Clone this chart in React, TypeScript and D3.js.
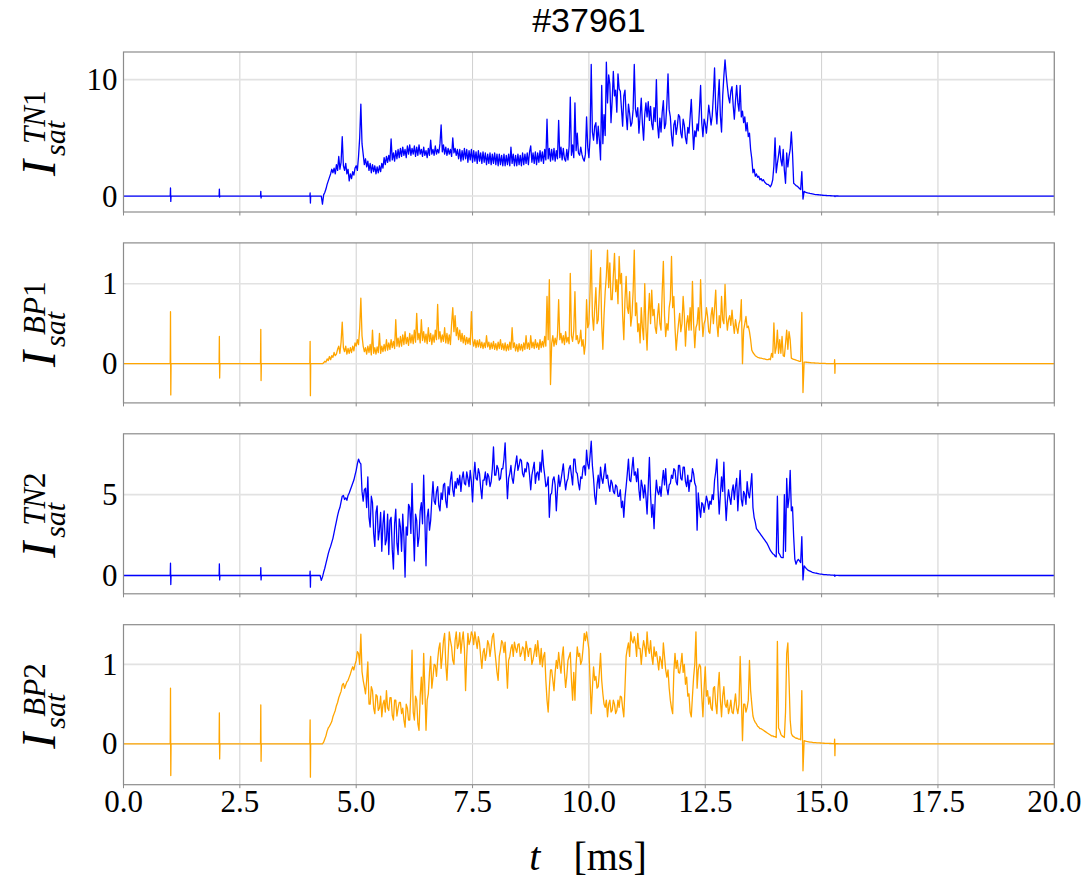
import React from 'react';
import * as d3 from 'd3';

// Sampling of the active part of the discharge (ms)
const tStart = 4.2;
const tStep = 0.025;

// Ion saturation current, probe TN1 (4.200 … 15.400 ms)
const tn1Values = [
  0, 0, 0, -0.7, 0.1, 0.3, 0.6, 1.0, 1.3, 1.6,
  1.9, 2.3, 2.0, 2.4, 1.9, 2.7, 2.2, 3.4, 2.3, 2.9,
  5.1, 2.6, 2.2, 2.8, 1.9, 2.3, 1.3, 1.9, 1.5, 2.1,
  1.8, 2.4, 2.6, 2.2, 3.4, 5.0, 7.9, 4.5, 3.6, 2.7,
  3.2, 2.5, 3.0, 2.2, 2.8, 2.0, 2.7, 2.1, 2.6, 1.9,
  2.5, 2.0, 2.6, 2.1, 2.8, 2.4, 3.3, 2.7, 3.4, 2.9,
  3.5, 3.0, 4.9, 3.1, 3.7, 3.0, 3.9, 3.2, 4.0, 3.3,
  4.1, 3.4, 4.2, 3.5, 4.0, 3.3, 4.3, 3.6, 4.4, 3.5,
  4.1, 3.6, 4.3, 3.4, 4.2, 3.5, 4.4, 3.6, 4.0, 3.4,
  4.2, 3.5, 3.9, 3.3, 4.1, 3.5, 4.8, 3.6, 4.0, 3.5,
  4.3, 3.6, 4.0, 3.7, 4.5, 6.1, 3.8, 4.4, 3.6, 4.2,
  3.5, 4.1, 3.6, 4.0, 3.4, 5.0, 3.7, 4.1, 3.5, 4.0,
  3.2, 4.0, 3.0, 3.9, 3.1, 4.1, 3.2, 4.0, 2.9, 3.9,
  3.1, 4.0, 2.9, 3.9, 3.0, 3.8, 2.8, 3.9, 3.0, 3.7,
  2.8, 3.8, 2.9, 3.7, 2.7, 3.6, 2.8, 3.7, 2.7, 3.6,
  2.8, 3.7, 2.7, 3.6, 2.6, 3.6, 2.7, 3.5, 2.6, 3.6,
  2.6, 3.5, 2.7, 3.6, 2.6, 4.2, 2.8, 3.6, 2.6, 3.5,
  2.6, 3.6, 2.7, 3.5, 2.6, 3.7, 2.7, 3.6, 2.8, 3.7,
  2.7, 3.8, 4.3, 2.9, 3.7, 2.8, 3.8, 2.7, 3.7, 2.9,
  3.9, 3.0, 3.8, 2.8, 4.0, 3.1, 6.6, 3.2, 4.1, 3.0,
  4.0, 3.1, 4.1, 3.0, 3.9, 3.2, 6.5, 3.3, 4.2, 3.1,
  4.1, 3.2, 3.0, 4.0, 3.1, 4.3, 8.5, 3.5, 4.4, 3.3,
  8.0, 3.9, 5.4, 3.7, 3.5, 4.2, 3.6, 3.2, 3.0, 3.6,
  6.8, 4.2, 3.3, 5.0, 11.3, 5.5, 4.8, 6.0, 6.3, 4.5,
  6.0, 4.8, 3.1, 9.5, 4.5, 7.0, 5.2, 11.5, 8.0, 10.4,
  9.6, 6.3, 8.2, 10.7, 8.6, 9.1, 7.2, 10.5, 9.2, 9.0,
  7.5, 6.0, 8.6, 9.1, 7.0, 5.7, 7.9, 7.1, 6.0, 6.3,
  7.4, 11.3, 7.5, 6.8, 7.6, 5.4, 6.9, 8.4, 6.2, 4.8,
  7.0, 8.0, 6.8, 8.1, 6.5, 7.7, 6.2, 5.7, 7.6, 6.4,
  10.0, 6.1, 5.0, 6.7, 5.5, 7.2, 8.2, 5.8, 6.2, 7.9,
  10.5, 7.4, 6.8, 5.2, 4.3, 6.1, 6.5, 5.3, 6.0, 7.0,
  6.8, 5.4, 5.0, 6.6, 6.1, 5.0, 4.5, 5.9, 5.4, 6.8,
  8.3, 6.0, 4.0, 5.6, 5.1, 6.2, 5.6, 7.4, 9.5, 6.3,
  5.1, 6.6, 6.2, 5.4, 6.5, 7.8, 7.0, 6.1, 6.9, 8.7,
  11.0, 7.5, 6.2, 8.3, 10.0, 6.9, 5.5, 8.6, 10.3, 11.7,
  10.4, 9.4, 8.5, 8.0, 9.0, 9.4, 7.8, 6.6, 8.2, 9.5,
  8.0, 7.3, 9.5, 6.8, 7.3, 6.3, 6.8, 5.6, 6.3, 5.1,
  5.4, 4.0, 3.2, 2.0, 2.3, 1.7, 1.9, 1.6, 1.7, 1.4,
  1.5, 1.3, 1.4, 1.2, 1.1, 1.0, 1.0, 0.9, 0.8, 1.0,
  1.4, 2.6, 5.0, 2.0, 2.8, 3.5, 4.3, 3.1, 2.6, 4.0,
  2.2, 1.1, 3.7, 2.5, 3.4, 4.0, 5.5, 3.7, 1.1, 1.0,
  0.9, 0.85, 0.75, 0.65, 0.55, 2.1, -0.26, 0.4, 0.33, 0.3,
  0.27, 0.25, 0.22, 0.2, 0.18, 0.16, 0.14, 0.13, 0.12, 0.11,
  0.1, 0.09, 0.08, 0.07, 0.06, 0.05, 0.045, 0.04, 0.035, 0.03,
  0.025, 0.02, 0.015, 0.01, 0.008, 0.005, 0.003, 0.001, 0,
];

// Probe BP1
const bp1Values = [
  0, 0, 0, 0, 0.01, 0.03, 0.02, 0.06, 0.04, 0.09,
  0.05, 0.1, 0.08, 0.14, 0.1, 0.12, 0.18, 0.22, 0.13, 0.27,
  0.52, 0.2, 0.15, 0.22, 0.12, 0.19, 0.13, 0.2, 0.14, 0.22,
  0.16, 0.26, 0.22, 0.3, 0.24, 0.45, 0.82, 0.35, 0.22, 0.15,
  0.2, 0.12, 0.22, 0.14, 0.24, 0.11, 0.42, 0.13, 0.2, 0.12,
  0.21, 0.14, 0.38, 0.13, 0.22, 0.15, 0.24, 0.16, 0.3, 0.17,
  0.26, 0.18, 0.3, 0.2, 0.28, 0.19, 0.55, 0.22, 0.32, 0.21,
  0.34, 0.22, 0.36, 0.24, 0.4, 0.25, 0.33, 0.23, 0.38, 0.26,
  0.36, 0.25, 0.42, 0.27, 0.63, 0.3, 0.38, 0.26, 0.55, 0.29,
  0.4, 0.27, 0.37, 0.25, 0.45, 0.28, 0.38, 0.24, 0.36, 0.27,
  0.42, 0.3, 0.74, 0.31, 0.4, 0.27, 0.36, 0.28, 0.45, 0.26,
  0.38, 0.25, 0.36, 0.24, 0.5, 0.7, 0.4, 0.6, 0.35, 0.45,
  0.3, 0.42, 0.28, 0.38, 0.26, 0.35, 0.24, 0.33, 0.25, 0.32,
  0.24, 0.65, 0.3, 0.22, 0.3, 0.2, 0.29, 0.21, 0.3, 0.2,
  0.27, 0.19, 0.26, 0.2, 0.35, 0.21, 0.27, 0.18, 0.26, 0.19,
  0.28, 0.18, 0.25, 0.17, 0.27, 0.19, 0.3, 0.18, 0.25, 0.17,
  0.26, 0.16, 0.24, 0.17, 0.27, 0.18, 0.45, 0.2, 0.26, 0.16,
  0.24, 0.15, 0.25, 0.17, 0.24, 0.16, 0.26, 0.18, 0.35, 0.19,
  0.26, 0.18, 0.35, 0.2, 0.27, 0.19, 0.3, 0.2, 0.26, 0.18,
  0.3, 0.2, 0.28, 0.21, 0.34, 0.22, 0.84, 0.3, 1.05, -0.26,
  0.25, 0.35, 0.22, 0.32, 0.24, 0.36, 0.8, 0.3, 0.38, 0.26,
  0.35, 0.24, 0.4, 0.27, 0.33, 0.25, 1.13, 0.35, 0.28, 0.42,
  0.9, 0.3, 0.35, 0.25, 0.28, 0.42, 0.22, 0.3, 0.12, 0.25,
  0.8, 0.45, 0.5, 0.9, 1.42, 0.6, 0.42, 0.7, 0.95, 0.5,
  0.55, 0.9, 1.2, 0.5, 0.18, 0.6, 0.9, 1.1, 1.42, 0.95,
  1.26, 0.8, 0.8, 1.1, 1.38, 0.9, 1.05, 0.75, 1.34, 1.0,
  1.13, 0.6, 0.3, 0.8, 1.09, 0.7, 0.63, 0.9, 0.47, 0.6,
  0.9, 1.42, 0.6, 0.76, 0.4, 0.5, 0.26, 0.7, 0.45, 0.3,
  1.0, 0.45, 0.17, 0.6, 0.88, 0.5, 0.92, 0.6, 0.68, 0.45,
  0.38, 0.6, 0.75, 0.5, 0.42, 0.9, 1.28, 0.6, 0.34, 0.5,
  0.42, 0.7, 0.8, 1.34, 0.7, 0.84, 0.45, 0.17, 0.35, 0.5,
  0.63, 0.4, 0.5, 0.84, 0.6, 0.22, 0.5, 0.6, 0.42, 0.7,
  0.42, 1.03, 0.5, 0.2, 0.45, 0.5, 0.7, 0.42, 1.05, 0.6,
  0.34, 0.5, 0.55, 0.7, 0.59, 0.4, 0.38, 0.6, 0.7, 0.5,
  0.7, 0.92, 0.5, 0.34, 0.6, 0.45, 0.84, 0.55, 0.5, 0.99,
  0.6, 0.42, 0.55, 0.6, 0.48, 0.67, 0.5, 0.38, 0.55, 0.45,
  0.38, 0.5, 0.55, 0.8, 0.0, 0.42, 0.5, 0.59, 0.45, 0.47,
  0.4, 0.3, 0.17, 0.14, 0.12, 0.1, 0.09, 0.08, 0.075, 0.07,
  0.07, 0.065, 0.06, 0.06, 0.055, 0.05, 0.05, 0.06, 0.05, 0.13,
  0.08, 0.51, 0.13, 0.2, 0.42, 0.13, 0.3, 0.13, 0.34, 0.1,
  0.09, 0.25, 0.42, 0.18, 0.4, 0.3, 0.07, 0.06, 0.055, 0.05,
  0.045, 0.04, 0.035, 0.03, 0.03, 0.64, -0.36, 0.02, 0.02, 0.018,
  0.016, 0.015, 0.014, 0.012, 0.011, 0.01, 0.009, 0.008, 0.007, 0.006,
  0.005, 0.005, 0.004, 0.004, 0.003, 0.003, 0.002, 0.002, 0.002, 0.001,
  0.001, 0.001, 0, 0, 0, 0, 0, 0, 0,
];

// Probe TN2
const tn2Values = [
  0, 0, -0.3, -0.1, 0.2, 0.45, 0.75, 1.05, 1.35, 1.6,
  1.8, 2.05, 2.3, 2.65, 3.0, 3.35, 3.7, 4.0, 4.2, 4.55,
  4.9, 4.95, 4.7, 4.8, 4.65, 4.95, 5.1, 5.3, 5.5, 5.7,
  5.9, 6.2, 6.5, 6.9, 7.2, 7.0, 6.9, 5.2, 4.6, 5.3,
  5.4, 4.2, 6.1, 3.6, 3.0, 4.9, 4.5, 2.6, 1.8, 3.9,
  4.3, 2.2, 2.8, 3.9, 1.5, 3.2, 4.0, 1.9, 2.2, 3.8,
  1.3, 3.4, 3.6, 1.6, 0.4, 3.2, 4.1, 2.0, 1.3, 3.5,
  3.0, 1.5, 3.8, 2.4, -0.1, 3.0, 2.5, 4.4, 4.2, 2.6,
  5.7, 3.0, 0.9, 3.8, 3.4, 1.8, 2.4, 4.0, 4.5, 3.2,
  6.2, 3.5, 0.6, 3.6, 4.1, 2.8, 3.4, 4.7, 5.8, 4.6,
  4.4, 5.2, 5.5, 4.3, 4.0, 5.1, 4.7, 5.6, 5.7, 4.6,
  4.2, 5.5, 5.0, 5.9, 6.4, 5.3, 4.9, 5.8, 5.4, 6.0,
  5.6, 6.2, 5.2, 6.0, 6.4, 5.7, 5.6, 6.4, 6.0, 5.5,
  6.5, 5.8, 4.55, 6.1, 7.0, 6.0, 5.9, 6.6, 6.3, 5.4,
  4.75, 5.9, 5.9, 6.4, 5.6, 6.3, 6.1, 5.5, 5.8, 6.6,
  7.95, 6.2, 6.2, 6.8, 6.6, 5.9, 6.0, 6.6, 6.6, 7.2,
  8.2, 6.3, 4.75, 6.0, 6.3, 6.8, 6.0, 5.7, 6.4, 6.9,
  7.4, 6.5, 6.8, 7.2, 7.1, 6.3, 6.1, 6.6, 6.4, 7.0,
  6.9, 6.2, 5.3, 6.2, 6.6, 7.0, 5.7, 6.3, 6.4, 5.9,
  7.0, 6.4, 7.75, 6.8, 6.2, 5.5, 5.6, 6.1, 3.6, 5.0,
  5.1, 5.9, 6.1, 5.6, 4.0, 5.3, 6.2, 5.5, 5.9, 6.4,
  6.9, 6.0, 5.3, 5.8, 6.0, 6.6, 6.8, 6.2, 5.6, 7.2,
  7.2, 6.4, 6.3, 5.7, 5.3, 6.1, 6.0, 6.7, 6.8, 6.2,
  7.75, 6.9, 6.6, 7.4, 8.3, 6.8, 6.0, 4.9, 4.4, 5.6,
  6.2, 5.4, 6.7, 6.0, 5.7, 6.3, 6.9, 6.0, 6.2, 5.6,
  5.2, 5.9, 5.7, 5.2, 5.06, 5.6, 5.5, 4.9, 4.9, 5.3,
  4.2, 4.6, 3.6, 4.8, 5.5, 6.3, 7.2, 5.9, 5.8, 6.6,
  7.3, 6.2, 6.4, 5.8, 6.6, 5.3, 4.65, 5.9, 5.5, 4.8,
  5.6, 4.9, 3.8, 5.5, 7.3, 5.0, 3.6, 4.4, 2.9, 4.8,
  5.9, 5.2, 5.0, 5.5, 4.9, 5.8, 6.5, 5.6, 6.6, 5.4,
  5.0, 5.6, 5.7, 6.2, 6.0, 6.6, 6.5, 5.8, 5.6, 6.8,
  6.8, 6.0, 5.9, 6.7, 6.7, 5.8, 5.5, 6.2, 5.2, 5.9,
  5.8, 6.6, 6.3, 5.7, 5.5, 2.8, 5.1, 4.2, 3.6, 4.5,
  4.4, 3.9, 4.4, 4.9, 4.6, 4.1, 4.6, 4.4, 5.0, 4.7,
  5.89, 6.4, 7.2, 5.3, 3.8, 5.0, 6.1, 5.2, 7.0, 4.9,
  3.4, 4.6, 5.3, 4.8, 4.4, 5.2, 5.6, 4.7, 5.5, 6.0,
  4.0, 5.3, 6.5, 4.7, 4.3, 5.2, 5.0, 4.4, 5.8, 5.1,
  4.8, 5.5, 6.3, 4.2, 3.6, 3.3, 2.9, 2.8, 2.7, 2.6,
  2.5, 2.4, 2.3, 2.2, 2.1, 2.0, 1.85, 1.7, 1.55, 1.45,
  1.35, 1.3, 1.2, 1.15, 4.9, 1.4, 1.3, 1.15, 1.1, 1.1,
  5.0, 1.5, 6.0, 4.2, 4.8, 6.5, 4.0, 4.24, 2.4, 1.0,
  0.7, 0.9, 1.0, 0.9, 0.8, 2.4, -0.27, 0.6, 0.5, 0.42,
  0.35, 0.3, 0.27, 0.24, 0.2, 0.18, 0.16, 0.15, 0.14, 0.12,
  0.1, 0.09, 0.08, 0.07, 0.06, 0.055, 0.05, 0.045, 0.04, 0.035,
  0.03, 0.025, 0.02, 0.015, 0.01, 0.007, 0.004, 0.002, 0,
];

// Probe BP2
const bp2Values = [
  0, 0, 0, 0, 0.02, 0.06, 0.1, 0.16, 0.2, 0.22,
  0.25, 0.28, 0.34, 0.38, 0.42, 0.48, 0.52, 0.58, 0.62, 0.66,
  0.74, 0.76, 0.7, 0.74, 0.78, 0.8, 0.84, 0.88, 0.93, 0.97,
  0.93, 1.0, 1.05, 1.16, 1.14, 1.0, 1.38, 0.91, 0.8, 0.72,
  0.63, 0.8, 1.03, 0.5, 0.5, 0.72, 0.67, 0.45, 0.38, 0.62,
  0.6, 0.42, 0.45, 0.6, 0.34, 0.5, 0.55, 0.4, 0.67, 0.45,
  0.42, 0.58, 0.58, 0.36, 0.3, 0.55, 0.55, 0.35, 0.45, 0.52,
  0.52, 0.38, 0.45, 0.3, 0.21, 0.5, 0.45, 0.3, 0.3, 0.67,
  1.18, 0.4, 0.3, 0.6, 0.55, 0.25, 0.17, 0.6, 0.84, 0.5,
  1.14, 0.7, 0.17, 0.55, 0.63, 0.9, 1.1, 0.7, 0.84, 1.0,
  0.99, 0.85, 1.05, 1.2, 1.27, 0.95, 1.1, 1.3, 1.39, 1.0,
  0.8, 1.1, 1.41, 1.3, 1.22, 1.05, 1.0, 1.3, 1.41, 1.2,
  1.25, 1.4, 1.14, 1.3, 1.41, 1.2, 0.67, 1.1, 1.39, 1.25,
  1.3, 1.41, 1.37, 1.25, 1.41, 1.3, 1.2, 1.35, 1.27, 1.1,
  0.95, 1.15, 1.2, 1.05, 1.14, 1.3, 1.25, 1.1, 1.22, 1.35,
  1.39, 1.2, 1.05, 0.9, 0.8, 1.1, 1.18, 1.3, 1.27, 1.15,
  1.28, 1.0, 0.7, 1.05, 1.1, 1.2, 1.25, 1.1, 1.28, 1.2,
  1.15, 1.25, 1.26, 1.1, 1.14, 1.22, 1.2, 1.05, 1.29, 1.2,
  1.1, 1.2, 1.2, 1.0, 1.06, 1.15, 1.25, 1.1, 1.3, 1.15,
  1.0, 1.2, 0.97, 1.1, 1.15, 0.8, 0.55, 0.4, 0.7, 0.93,
  0.93, 0.8, 0.67, 0.9, 1.05, 0.95, 1.15, 1.0, 0.89, 1.1,
  1.22, 0.9, 0.71, 0.85, 1.05, 1.1, 1.15, 0.8, 0.55, 0.9,
  0.55, 1.0, 1.22, 1.1, 1.14, 1.0, 1.05, 1.2, 1.39, 1.3,
  1.41, 1.3, 1.19, 0.8, 0.38, 0.7, 0.97, 0.8, 0.85, 0.7,
  0.72, 0.9, 1.14, 0.8, 0.63, 0.5, 0.46, 0.55, 0.34, 0.5,
  0.55, 0.4, 0.42, 0.55, 0.5, 0.38, 0.42, 0.55, 0.46, 0.6,
  0.59, 0.45, 0.34, 0.7, 1.1, 1.2, 1.27, 1.1, 1.41, 1.3,
  1.27, 1.35, 1.27, 1.1, 1.39, 1.2, 1.2, 1.0, 1.18, 1.3,
  1.22, 1.1, 1.41, 1.2, 1.14, 1.3, 1.1, 1.0, 1.22, 1.1,
  1.16, 1.05, 0.93, 1.1, 1.05, 0.95, 1.27, 1.1, 0.93, 0.84,
  0.93, 0.7, 0.55, 0.45, 0.38, 0.9, 1.14, 0.95, 1.05, 0.9,
  0.89, 1.0, 1.14, 0.9, 1.0, 0.75, 0.84, 0.6, 0.63, 0.4,
  0.34, 0.6, 0.84, 1.0, 1.41, 0.7, 0.93, 1.0, 0.97, 0.6,
  0.34, 0.7, 0.97, 0.6, 0.67, 0.5, 0.59, 0.45, 0.42, 0.7,
  0.72, 0.5, 0.38, 0.7, 0.9, 0.55, 0.34, 0.6, 0.72, 0.5,
  0.46, 0.55, 0.38, 0.45, 0.55, 0.4, 0.38, 0.5, 0.63, 0.45,
  0.38, 0.5, 1.1, 0.6, 0.04, 0.5, 0.5, 0.4, 0.46, 0.55,
  1.05, 0.67, 0.5, 0.35, 0.3, 0.27, 0.25, 0.22, 0.21, 0.19,
  0.19, 0.18, 0.17, 0.16, 0.15, 0.14, 0.13, 0.12, 0.11, 0.1,
  0.1, 0.09, 0.09, 0.08, 1.29, 0.2, 0.17, 0.12, 0.1, 0.09,
  0.08, 0.4, 1.14, 1.27, 0.8, 0.3, 0.13, 0.1, 0.09, 0.08,
  0.07, 0.07, 0.06, 0.06, 0.05, 0.67, -0.34, 0.04, 0.035, 0.03,
  0.028, 0.025, 0.022, 0.02, 0.018, 0.016, 0.015, 0.014, 0.013, 0.012,
  0.011, 0.01, 0.009, 0.008, 0.007, 0.006, 0.006, 0.005, 0.005, 0.004,
  0.004, 0.003, 0.003, 0.002, 0.002, 0.001, 0.001, 0, 0,
];

// Pickup spikes on the otherwise flat baseline (time, positive and negative excursion)
const spikeTimes = [1.01, 2.06, 2.95, 4.01, 15.28];
const tn1SpikeHi = [0.69, 0.6, 0.4, 0.26, 0.02];
const tn1SpikeLo = [-0.46, -0.1, -0.17, -0.6, -0.05];
const bp1SpikeHi = [0.65, 0.34, 0.43, 0.28, 0.05];
const bp1SpikeLo = [-0.39, -0.18, -0.21, -0.4, -0.12];
const tn2SpikeHi = [0.76, 0.72, 0.48, 0.27, 0.03];
const tn2SpikeLo = [-0.56, -0.27, -0.27, -0.72, -0.05];
const bp2SpikeHi = [0.7, 0.39, 0.49, 0.3, 0.06];
const bp2SpikeLo = [-0.4, -0.19, -0.22, -0.42, -0.15];

// Axes
const xDomain = [0, 20];
const xTicks = [0, 2.5, 5, 7.5, 10, 12.5, 15, 17.5, 20];
const channelNames = ['TN1', 'BP1', 'TN2', 'BP2'];
const yLimits = [
  [-1.37, 12.37],
  [-0.49, 1.51],
  [-1.13, 8.76],
  [-0.515, 1.5],
];
const yTicks = [
  [0, 10],
  [0, 1],
  [0, 5],
  [0, 1],
];
const title = '#37961';

type Pt = [number, number];

function buildSeries(values: number[], hi: number[], lo: number[]): Pt[] {
  const pts: Pt[] = values.map((v, i) => [+(tStart + i * tStep).toFixed(4), v] as Pt);
  spikeTimes.forEach((t, k) => {
    pts.push([t - 0.006, 0], [t, hi[k]], [t + 0.006, lo[k]], [t + 0.012, 0]);
  });
  pts.push([xDomain[0], 0], [xDomain[1], 0]);
  pts.sort((a, b) => a[0] - b[0]);
  return pts;
}

const seriesList = [
  { pts: buildSeries(tn1Values, tn1SpikeHi, tn1SpikeLo), color: '#0000ff' },
  { pts: buildSeries(bp1Values, bp1SpikeHi, bp1SpikeLo), color: '#ffa500' },
  { pts: buildSeries(tn2Values, tn2SpikeHi, tn2SpikeLo), color: '#0000ff' },
  { pts: buildSeries(bp2Values, bp2SpikeHi, bp2SpikeLo), color: '#ffa500' },
];

const W = 1087;
const H = 888;
const plotLeft = 123.5;
const plotRight = 1054.3;
const panelTop0 = 52;
const panelH = 160;
const panelPitch = 190.9;
const serif = 'Liberation Serif, Times New Roman, Times, serif';

// Rotated axis label I_sat^{XXn}
function YLabel({ cy, name }: { cy: number; name: string }) {
  const letters = name.slice(0, 2);
  const digit = name.slice(2);
  return (
    <text
      transform={`translate(55,${cy + 44}) rotate(-90)`}
      fontFamily={serif}
      fontStyle="italic"
      fontSize={48}
      fill="#000"
    >
      <tspan>I</tspan>
      <tspan fontSize={30} dx={4} dy={10}>sat</tspan>
      <tspan fontSize={31} x={32} dy={-20}>
        {letters}
        <tspan fontStyle="normal">{digit}</tspan>
      </tspan>
    </text>
  );
}

export default function App() {
  const x = d3.scaleLinear().domain(xDomain).range([plotLeft, plotRight]);

  return (
    <svg
      width={W}
      height={H}
      viewBox={`0 0 ${W} ${H}`}
      style={{ position: 'absolute', left: 0, top: 0, background: '#fff' }}
    >
      <rect x={0} y={0} width={W} height={H} fill="#fff" />
      <text
        x={(plotLeft + plotRight) / 2}
        y={32}
        textAnchor="middle"
        fontFamily="Liberation Sans, Arial, sans-serif"
        fontSize={34}
        fill="#000"
      >
        {title}
      </text>
      {seriesList.map((s, i) => {
        const top = panelTop0 + i * panelPitch;
        const bottom = top + panelH;
        const y = d3.scaleLinear().domain(yLimits[i]).range([bottom, top]);
        const line = d3
          .line<Pt>()
          .x((d) => x(d[0]))
          .y((d) => y(d[1]));
        const clipId = `clip-${i}`;
        return (
          <g key={i}>
            <defs>
              <clipPath id={clipId}>
                <rect x={plotLeft} y={top} width={plotRight - plotLeft} height={panelH} />
              </clipPath>
            </defs>
            {/* grid */}
            {xTicks.map((t) => (
              <line
                key={`gx${t}`}
                x1={x(t)}
                x2={x(t)}
                y1={top}
                y2={bottom}
                stroke="#d0d0d0"
                strokeWidth={1}
              />
            ))}
            {yTicks[i].map((v) => (
              <line
                key={`gy${v}`}
                x1={plotLeft}
                x2={plotRight}
                y1={y(v)}
                y2={y(v)}
                stroke="#e2e2e2"
                strokeWidth={1.6}
              />
            ))}
            {/* signal */}
            <path
              d={line(s.pts) || ''}
              fill="none"
              stroke={s.color}
              strokeWidth={1.3}
              strokeLinejoin="round"
              clipPath={`url(#${clipId})`}
            />
            {/* frame */}
            <rect
              x={plotLeft}
              y={top}
              width={plotRight - plotLeft}
              height={panelH}
              fill="none"
              stroke="#8c8c8c"
              strokeWidth={1.2}
            />
            {/* x ticks */}
            {xTicks.map((t) => (
              <line
                key={`tx${t}`}
                x1={x(t)}
                x2={x(t)}
                y1={bottom}
                y2={bottom + 3.5}
                stroke="#8c8c8c"
                strokeWidth={1}
              />
            ))}
            {/* y tick labels */}
            {yTicks[i].map((v) => (
              <text
                key={`ly${v}`}
                x={plotLeft - 6}
                y={y(v)}
                dy="0.34em"
                textAnchor="end"
                fontFamily={serif}
                fontSize={31}
                fill="#000"
              >
                {String(v)}
              </text>
            ))}
            <YLabel cy={top + panelH / 2} name={channelNames[i]} />
            {i === seriesList.length - 1 &&
              xTicks.map((t) => (
                <text
                  key={`lx${t}`}
                  x={x(t)}
                  y={bottom + 27}
                  textAnchor="middle"
                  fontFamily={serif}
                  fontSize={31}
                  fill="#000"
                >
                  {t.toFixed(1)}
                </text>
              ))}
          </g>
        );
      })}
      <text x={588} y={870} textAnchor="middle" fontFamily={serif} fontSize={40} fill="#000">
        <tspan fontStyle="italic">t</tspan>
        <tspan dx={33}>[ms]</tspan>
      </text>
    </svg>
  );
}
